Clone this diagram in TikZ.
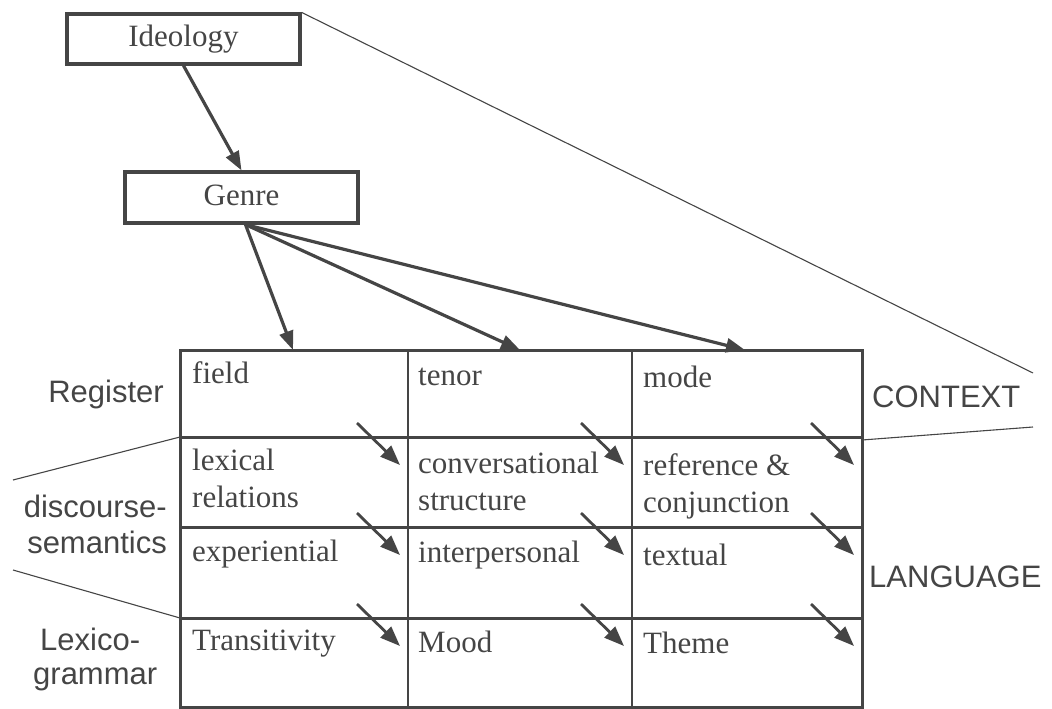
\documentclass[tikz,border=0pt]{standalone}
\usepackage{fontspec}
\setmainfont{Liberation Serif}
\setsansfont{Liberation Sans}
\usetikzlibrary{arrows.meta,calc}
\definecolor{ink}{gray}{0.27}
\begin{document}
\begin{tikzpicture}[x=1pt,y=-1pt,
  serif/.style={font=\fontsize{31}{37}\selectfont},
  levbox/.style={draw=ink,line width=3.2pt,minimum width=233pt,minimum height=50pt,
    inner sep=0pt,text height=21pt,text depth=6pt,serif,text=ink},
  celltext/.style={anchor=base west,inner sep=0pt,serif,text=ink},
  sidelabel/.style={inner sep=0pt,font=\sffamily\fontsize{31}{37}\selectfont,text=ink},
  gridline/.style={draw=ink,line width=3pt},
  realize/.style={draw=ink,line width=3.2pt,-{Triangle[length=19pt,width=14pt]}},
  cellarrow/.style={draw=ink,line width=2.8pt,-{Triangle[length=20pt,width=15pt]}},
  thin/.style={draw=ink,line width=1.1pt}]
\useasboundingbox (0,0) rectangle (1052,709);

% upper strata
\node[levbox] (ideology) at (183.5,39) {Ideology};
\node[levbox,minimum height=51pt] (genre) at (241.5,197.5) {Genre};

% grid corners: columns x0..x3, rows y0..y4
\coordinate (g00) at (180,350);
\coordinate (g33) at (862,707);
\foreach \c/\x in {1/408,2/632,3/862}
  \foreach \r/\y in {1/437,2/527,3/618}
    \coordinate (x\c r\r) at (\x,\y);

% register / semantics / grammar table
\draw[gridline] (g00) rectangle (g33);
\foreach \y in {437,527,618} \draw[gridline] (180,\y) -- (862,\y);
\foreach \x in {408,632} \draw[gridline,line width=2.6pt] (\x,350) -- (\x,707);

% entry points of genre into register
\coordinate (fieldin) at (293,350);
\coordinate (tenorin) at (520,350);
\coordinate (modein) at (745,350);

\draw[realize] (ideology.south) -- (genre.north);
\draw[realize] ([xshift=4pt]genre.south) -- (fieldin);
\draw[realize] ([xshift=4pt]genre.south) -- (tenorin);
\draw[realize] ([xshift=4pt]genre.south) -- (modein);

% realisation arrows crossing each row boundary
\foreach \c in {1,2,3}
  \foreach \r in {1,2,3}
    \draw[cellarrow] ($(x\c r\r)+(-51,-14)$) -- ($(x\c r\r)+(-8,28)$);

% context / language brackets
\coordinate (ctxfar) at (1033,373);
\coordinate (langfar) at (1033,427);
\coordinate (ctxright) at (862,440);
\coordinate (leftup) at (13,480);
\coordinate (leftdown) at (13,570);
\draw[thin] (ideology.north east) -- (ctxfar);
\draw[thin] (ctxright) -- (langfar);
\draw[thin] (x1r1 -| g00) -- (leftup);
\draw[thin] (leftdown) -- (x1r3 -| g00);

% cell contents
\node[celltext] (field) at (192,383) {field};
\node[celltext] (tenor) at (418,385) {tenor};
\node[celltext] (mode) at (643,387) {mode};
\node[celltext] (lex1) at (192,470) {lexical};
\node[celltext] (lex2) at (192,507) {relations};
\node[celltext] (conv1) at (418,473) {conversational};
\node[celltext] (conv2) at (418,510) {structure};
\node[celltext] (ref1) at (643,475) {reference \&};
\node[celltext] (ref2) at (643,512) {conjunction};
\node[celltext] (exp) at (192,561) {experiential};
\node[celltext] (interp) at (418,562) {interpersonal};
\node[celltext] (textual) at (643,565) {textual};
\node[celltext] (trans) at (192,650) {Transitivity};
\node[celltext] (mood) at (418,652) {Mood};
\node[celltext] (theme) at (643,653) {Theme};

% stratum labels
\node[sidelabel,anchor=base east] (register) at (164,402) {Register};
\node[sidelabel,anchor=base east] (disc1) at (167,517) {discourse-};
\node[sidelabel,anchor=base east] (disc2) at (167,553) {semantics};
\node[sidelabel,anchor=base west] (lexg1) at (40,650) {Lexico-};
\node[sidelabel,anchor=base west] (lexg2) at (33,684) {grammar};
\node[sidelabel,anchor=base west] (context) at (872,407) {CONTEXT};
\node[sidelabel,anchor=base west] (language) at (869,587) {LANGUAGE};
\end{tikzpicture}
\end{document}
